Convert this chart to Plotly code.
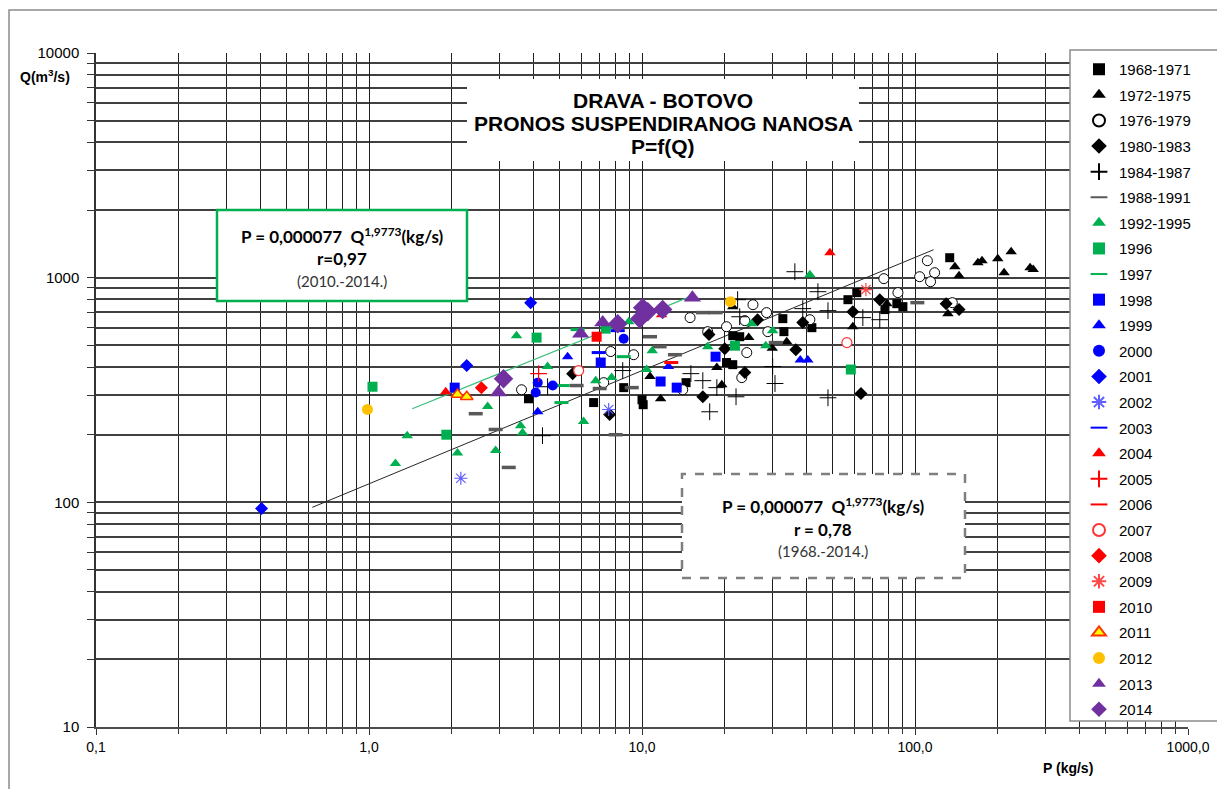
import plotly.graph_objects as go

# ---------------- data (P in kg/s, Q in m3/s) ----------------
p_1968_1971 = [3.84, 6.65, 8.57, 10.0, 10.1, 14.5, 20.4, 21.5, 21.5, 22.8, 32.8, 33.1, 41.9, 56.8, 61.2, 77.6, 85.8, 90.3, 134]
q_1968_1971 = [289, 278, 324, 286, 272, 341, 419, 410, 552, 546, 657, 575, 599, 798, 858, 721, 766, 743, 1227]

p_1972_1975 = [11.7, 10.7, 19.6, 18.8, 24.6, 30.0, 21.5, 33.9, 59.2, 78.9, 132, 140, 145, 170, 176, 201, 212, 225, 264, 271]
q_1972_1975 = [289, 363, 334, 398, 541, 485, 743, 519, 605, 766, 691, 1119, 1021, 1166, 1190, 1215, 1052, 1305, 1108, 1086]

p_1976_1979 = [3.62, 7.24, 7.68, 9.32, 14.1, 15.0, 17.4, 20.4, 23.8, 23.2, 24.2, 25.5, 28.6, 28.9, 41.2, 76.9, 86.6, 104, 111, 118, 114, 137]
q_1976_1979 = [317, 341, 469, 454, 317, 664, 575, 605, 644, 359, 464, 758, 699, 575, 650, 990, 858, 1010, 1190, 1052, 960, 774]

p_1980_1983 = [5.57, 7.61, 16.7, 17.6, 20.1, 23.8, 26.5, 36.6, 38.8, 59.2, 74.3, 63.4, 130, 145]
q_1980_1983 = [374, 246, 295, 558, 483, 378, 650, 478, 631, 706, 798, 305, 766, 721]

p_1984_1987 = [4.51, 4.32, 8.50, 15.1, 16.7, 17.7, 18.8, 22.1, 22.4, 22.8, 30.1, 30.7, 36.3, 38.8, 44.1, 48.0, 48.0, 64.4, 74.3]
q_1984_1987 = [327, 198, 386, 374, 348, 253, 324, 295, 798, 670, 402, 338, 1063, 728, 866, 713, 292, 664, 650]

p_1988_1991 = [2.46, 2.91, 3.25, 5.76, 7.0, 8.01, 9.17, 10.7, 11.6, 13.2, 16.7, 18.6, 30.9, 102]
q_1988_1991 = [248, 211, 143, 331, 321, 200, 324, 546, 493, 454, 699, 699, 514, 774]

p_1992_1995 = [1.25, 1.38, 2.11, 2.72, 2.91, 3.47, 3.59, 3.65, 4.51, 6.11, 6.77, 7.74, 8.94, 10.4, 10.9, 17.4, 25.2, 28.4, 30.1, 41.2]
q_1992_1995 = [149, 198, 166, 267, 170, 552, 219, 204, 402, 229, 348, 359, 637, 390, 473, 493, 624, 498, 581, 1031]

p_1996 = [1.03, 1.92, 4.11, 7.36, 21.9, 58.2]
q_1996 = [327, 200, 541, 593, 498, 390]
p_1997 = [5.81, 8.57, 5.12, 5.07]
q_1997 = [587, 445, 331, 278]
p_1998 = [2.06, 7.06, 11.7, 13.4, 18.6]
q_1998 = [324, 419, 345, 324, 445]
p_1999 = [5.34, 12.5, 38.0, 40.5, 4.15]
q_1999 = [445, 402, 430, 430, 253]
p_2000 = [8.57, 4.15, 4.71, 4.08]
q_2000 = [535, 341, 331, 308]
p_2001 = [0.404, 2.28, 3.91]
q_2001 = [93.8, 406, 774]
p_2002 = [2.17, 7.55]
q_2002 = [128, 259]
p_2003 = [6.94, 8.15]
q_2003 = [464, 581]
p_2004 = [1.91, 11.8, 48.8]
q_2004 = [311, 684, 1292]
p_2005 = [4.18]
q_2005 = [374]
p_2006 = [12.8]
q_2006 = [419]
p_2007 = [5.86, 56.3]
q_2007 = [386, 514]
p_2008 = [2.58]
q_2008 = [324]
p_2009 = [66.1]
q_2009 = [885]
p_2010 = [6.82]
q_2010 = [546]
p_2011 = [2.11, 2.28]
q_2011 = [302, 295]
p_2012 = [0.987, 21.1]
q_2012 = [259, 782]
p_2013 = [2.98, 5.96, 7.18, 15.3]
q_2013 = [308, 563, 631, 815]
p_2014 = [3.11, 8.15, 9.81, 10.06, 10.5, 11.9]
q_2014 = [355, 624, 657, 735, 706, 721]

# trend lines (end points)
trend_all_p = [0.62, 117]
trend_all_q = [95, 1332]
trend_recent_p = [1.44, 15.0]
trend_recent_q = [261, 823]

x_tick_vals = [0.1, 1, 10, 100, 1000]
x_tick_text = ["0,1", "1,0", "10,0", "100,0", "1000,0"]
y_tick_vals = [10, 100, 1000, 10000]
y_tick_text = ["10", "100", "1000", "10000"]
x_minor_vals = [m * 10.0 ** e for e in range(-1, 3) for m in range(2, 10)]
y_minor_vals = [m * 10.0 ** e for e in range(1, 4) for m in range(2, 10)]

GREEN = "#00B050"
BLUE = "#0000FF"
RED = "#FF0000"
PURPLE = "#7030A0"

series = [
    ("1968-1971", p_1968_1971, q_1968_1971, dict(symbol="square", size=9, color="black")),
    ("1972-1975", p_1972_1975, q_1972_1975, dict(symbol="triangle-up", size=10, color="black")),
    ("1976-1979", p_1976_1979, q_1976_1979, dict(symbol="circle", size=10, color="white", line=dict(color="black", width=1))),
    ("1980-1983", p_1980_1983, q_1980_1983, dict(symbol="diamond", size=10, color="black")),
    ("1984-1987", p_1984_1987, q_1984_1987, dict(symbol="cross-thin-open", size=12, color="black", line=dict(color="black", width=1))),
    ("1988-1991", p_1988_1991, q_1988_1991, dict(symbol="line-ew", size=10, color="#595959", line=dict(color="#595959", width=3.5))),
    ("1992-1995", p_1992_1995, q_1992_1995, dict(symbol="triangle-up", size=10, color=GREEN)),
    ("1996", p_1996, q_1996, dict(symbol="square", size=10, color=GREEN)),
    ("1997", p_1997, q_1997, dict(symbol="line-ew", size=10, color=GREEN, line=dict(color=GREEN, width=3))),
    ("1998", p_1998, q_1998, dict(symbol="square", size=10, color=BLUE)),
    ("1999", p_1999, q_1999, dict(symbol="triangle-up", size=10, color=BLUE)),
    ("2000", p_2000, q_2000, dict(symbol="circle", size=10, color=BLUE)),
    ("2001", p_2001, q_2001, dict(symbol="diamond", size=10, color=BLUE)),
    ("2002", p_2002, q_2002, dict(symbol="asterisk-open", size=11, color="#5F5FFF", line=dict(color="#5F5FFF", width=1.2))),
    ("2003", p_2003, q_2003, dict(symbol="line-ew", size=10, color=BLUE, line=dict(color=BLUE, width=3))),
    ("2004", p_2004, q_2004, dict(symbol="triangle-up", size=10, color=RED)),
    ("2005", p_2005, q_2005, dict(symbol="cross-thin-open", size=12, color=RED, line=dict(color=RED, width=1.2))),
    ("2006", p_2006, q_2006, dict(symbol="line-ew", size=10, color=RED, line=dict(color=RED, width=3))),
    ("2007", p_2007, q_2007, dict(symbol="circle", size=10, color="white", line=dict(color="#FF3333", width=1.2))),
    ("2008", p_2008, q_2008, dict(symbol="diamond", size=10, color=RED)),
    ("2009", p_2009, q_2009, dict(symbol="asterisk-open", size=11, color="#FF4848", line=dict(color="#FF4848", width=1.2))),
    ("2010", p_2010, q_2010, dict(symbol="square", size=10, color=RED)),
    ("2011", p_2011, q_2011, dict(symbol="triangle-up", size=11, color="#FFFF00", line=dict(color="#FF3300", width=1.5))),
    ("2012", p_2012, q_2012, dict(symbol="circle", size=11, color="#FFC000")),
    ("2013", p_2013, q_2013, dict(symbol="triangle-up", size=15, color=PURPLE)),
    ("2014", p_2014, q_2014, dict(symbol="diamond", size=15, color=PURPLE)),
]

fig = go.Figure()

fig.add_trace(go.Scatter(x=trend_all_p, y=trend_all_q, mode="lines",
                         line=dict(color="#262626", width=1), showlegend=False, hoverinfo="skip"))
fig.add_trace(go.Scatter(x=trend_recent_p, y=trend_recent_q, mode="lines",
                         line=dict(color="#3DBE7A", width=1.3), showlegend=False, hoverinfo="skip"))

for name, p, q, mk in series:
    fig.add_trace(go.Scatter(x=p, y=q, mode="markers", name=name, legendgroup=name, marker=mk))

# screen pixel -> paper coords (plot area on screen: 96..1188 x 53..727)
def px(x):
    return (x - 96) / 1092.0

def py(y):
    return (727 - y) / 674.0

shapes = [
    # outer frame
    dict(type="rect", xref="paper", yref="paper", x0=px(9), x1=px(1240), y0=py(800), y1=py(10),
         line=dict(color="#8c8c8c", width=1.5), fillcolor="rgba(0,0,0,0)", layer="above"),
    # title background
    dict(type="rect", xref="paper", yref="paper", x0=px(467), x1=px(859), y0=py(161), y1=py(79),
         line=dict(width=0), fillcolor="white", layer="above"),
    # green equation box
    dict(type="rect", xref="paper", yref="paper", x0=px(217), x1=px(467), y0=py(301), y1=py(210),
         line=dict(color=GREEN, width=2.5), fillcolor="white", layer="above"),
    # gray dashed equation box
    dict(type="rect", xref="paper", yref="paper", x0=px(682), x1=px(965), y0=py(578), y1=py(474),
         line=dict(color="#7f7f7f", width=2.5, dash="dash"), fillcolor="white", layer="above"),
    # legend box
    dict(type="rect", xref="paper", yref="paper", x0=px(1070), x1=px(1219), y0=py(721), y1=py(50),
         line=dict(color="#8c8c8c", width=1.5), fillcolor="white", layer="above"),
]

TITLE_FONT = dict(family="Liberation Sans, Arial", size=21, color="black")
EQ_FONT = dict(family="Lato, Liberation Sans", size=17, color="black")
SUB_FONT = dict(family="Lato, Liberation Sans", size=15, color="#333333")

annotations = [
    dict(text="<b>DRAVA - BOTOVO</b>", x=px(663), y=py(100), font=TITLE_FONT),
    dict(text="<b>PRONOS SUSPENDIRANOG NANOSA</b>", x=px(663), y=py(123), font=TITLE_FONT),
    dict(text="<b>P=f(Q)</b>", x=px(663), y=py(146), font=TITLE_FONT),
    dict(text="<b>P = 0,000077  Q<sup>1,9773</sup>(kg/s)</b>", x=px(342), y=py(235), font=EQ_FONT),
    dict(text="<b>r=0,97</b>", x=px(342), y=py(258), font=EQ_FONT),
    dict(text="(2010.-2014.)", x=px(342), y=py(281), font=SUB_FONT),
    dict(text="<b>P = 0,000077  Q<sup>1,9773</sup>(kg/s)</b>", x=px(823), y=py(506), font=EQ_FONT),
    dict(text="<b>r = 0,78</b>", x=px(823), y=py(529), font=EQ_FONT),
    dict(text="(1968.-2014.)", x=px(823), y=py(551), font=SUB_FONT),
    dict(text="<b>Q(m<sup>3</sup>/s)</b>", x=px(45), y=py(76),
         font=dict(family="Liberation Sans, Arial", size=14, color="black")),
    dict(text="<b>P (kg/s)</b>", x=px(1068), y=py(768),
         font=dict(family="Liberation Sans, Arial", size=14, color="black")),
]
for a in annotations:
    a.update(xref="paper", yref="paper", showarrow=False, xanchor="center", yanchor="middle")

# the page body adds an 8px offset, so the figure margins are shifted by -8px
fig.update_layout(
    width=1225, height=789,
    margin=dict(l=88, r=45, t=45, b=70, autoexpand=False),
    paper_bgcolor="white", plot_bgcolor="white",
    font=dict(family="Liberation Sans, Arial", size=14, color="black"),
    shapes=shapes,
    annotations=annotations,
    legend=dict(x=px(1079), y=1.0, xanchor="left", yanchor="top",
                bgcolor="rgba(0,0,0,0)", borderwidth=0,
                font=dict(family="Liberation Sans, Arial", size=15, color="black"),
                itemsizing="constant", tracegroupgap=3.1, traceorder="grouped"),
    showlegend=True,
)

fig.update_xaxes(
    type="log", range=[-1, 3],
    tickvals=x_tick_vals, ticktext=x_tick_text,
    showgrid=True, gridcolor="#1f1f1f", gridwidth=1,
    ticks="outside", ticklen=6, tickcolor="#333333",
    showline=True, linecolor="#4d4d4d", linewidth=2,
    zeroline=False,
    tickfont=dict(size=14),
    minor=dict(tickmode="array", tickvals=x_minor_vals, showgrid=True, gridcolor="#1f1f1f",
               gridwidth=1, ticks="outside", ticklen=5, tickcolor="#333333"),
)
fig.update_yaxes(
    type="log", range=[1, 4],
    tickvals=y_tick_vals, ticktext=y_tick_text,
    showgrid=True, gridcolor="#404040", gridwidth=1.5,
    ticks="outside", ticklen=7, tickcolor="#333333",
    showline=True, linecolor="#333333", linewidth=1.5,
    zeroline=False,
    tickfont=dict(size=15),
    ticklabelstandoff=5,
    minor=dict(tickmode="array", tickvals=y_minor_vals, showgrid=True, gridcolor="#404040",
               gridwidth=1.5, ticks="outside", ticklen=7, tickcolor="#333333"),
)

fig.write_html("out.html")
